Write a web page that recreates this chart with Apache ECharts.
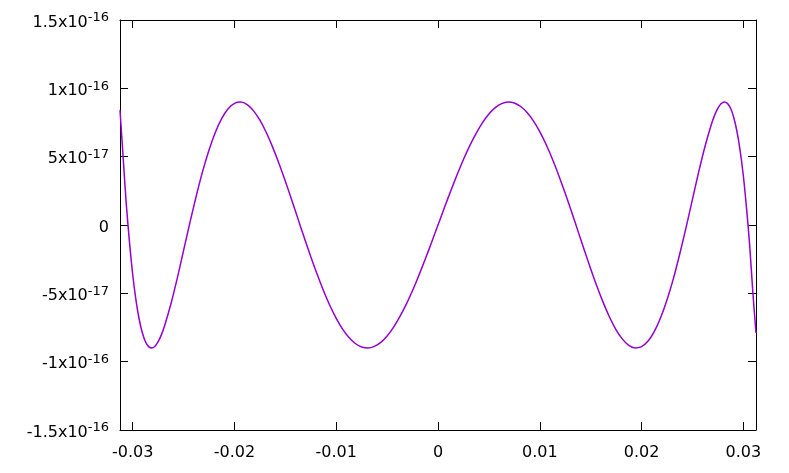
<!DOCTYPE html>
<html>
<head>
<meta charset="utf-8">
<script src="https://cdn.jsdelivr.net/npm/echarts@6/dist/echarts.min.js"></script>
<style>
  html, body { margin: 0; padding: 0; background: #fff; }
  #chart { width: 789px; height: 473px; }
</style>
</head>
<body>
<div id="chart"></div>
<script>
// x positions
const xs = [
  -0.03125, -0.0309375, -0.030625, -0.0303125, -0.03, -0.0296875, -0.029375, -0.0290625,
  -0.02875, -0.0284375, -0.028125, -0.0278125, -0.0275, -0.0271875, -0.026875,
  -0.02625, -0.025625, -0.025, -0.024375, -0.02375, -0.023125, -0.0225, -0.021875,
  -0.02125, -0.020625, -0.02, -0.019375, -0.01875, -0.018125, -0.0175, -0.016875,
  -0.01625, -0.015625, -0.015, -0.014375, -0.01375, -0.013125, -0.0125, -0.011875,
  -0.01125, -0.010625, -0.01, -0.009375, -0.00875, -0.008125, -0.0075, -0.006875,
  -0.00625, -0.005625, -0.005, -0.004375, -0.00375, -0.003125, -0.0025, -0.001875,
  -0.00125, -0.000625,
  0,
  0.000625, 0.00125, 0.001875, 0.0025, 0.003125, 0.00375, 0.004375, 0.005,
  0.005625, 0.00625, 0.006875, 0.0075, 0.008125, 0.00875, 0.009375, 0.01,
  0.010625, 0.01125, 0.011875, 0.0125, 0.013125, 0.01375, 0.014375, 0.015,
  0.015625, 0.01625, 0.016875, 0.0175, 0.018125, 0.01875, 0.019375, 0.02,
  0.020625, 0.02125, 0.021875, 0.0225, 0.023125, 0.02375, 0.024375, 0.025,
  0.025625, 0.02625, 0.026875, 0.0271875, 0.0275, 0.0278125, 0.028125, 0.0284375,
  0.02875, 0.0290625, 0.029375, 0.0296875, 0.03, 0.0303125, 0.030625, 0.0309375,
  0.03125
]
// error values, in units of 1e-16
const errs = [
  0.84, 0.49, 0.145, -0.129, -0.364, -0.546, -0.686, -0.787,
  -0.854, -0.890, -0.900, -0.887, -0.854, -0.804, -0.739,
  -0.578, -0.390, -0.186, 0.019, 0.214, 0.394, 0.549, 0.679,
  0.780, 0.851, 0.890, 0.900, 0.881, 0.835, 0.767, 0.677,
  0.570, 0.450, 0.320, 0.183, 0.043, -0.097, -0.232, -0.361,
  -0.481, -0.589, -0.683, -0.762, -0.823, -0.867, -0.893, -0.900,
  -0.888, -0.859, -0.812, -0.749, -0.671, -0.581, -0.479, -0.367,
  -0.249, -0.126,
  0,
  0.126, 0.249, 0.367, 0.479, 0.581, 0.671, 0.749, 0.812,
  0.859, 0.888, 0.900, 0.893, 0.867, 0.823, 0.762, 0.683,
  0.589, 0.481, 0.361, 0.232, 0.097, -0.043, -0.183, -0.320,
  -0.450, -0.570, -0.677, -0.767, -0.835, -0.881, -0.900, -0.890,
  -0.851, -0.780, -0.679, -0.549, -0.394, -0.214, -0.019, 0.186,
  0.390, 0.578, 0.739, 0.804, 0.854, 0.887, 0.900, 0.890,
  0.854, 0.787, 0.686, 0.546, 0.364, 0.129, -0.145, -0.49,
  -0.79
]
const xTicks = [-0.03, -0.02, -0.01, 0, 0.01, 0.02, 0.03]
const xTickLabels = ['-0.03', '-0.02', '-0.01', '0', '0.01', '0.02', '0.03']
const yTicks = [-1.5, -1, -0.5, 0, 0.5, 1, 1.5]
const yMant = ['-1.5x10', '-1x10', '-5x10', '0', '5x10', '1x10', '1.5x10']
const yExp = ['-16', '-16', '-17', '', '-17', '-16', '-16']

const FONT = 'DejaVu Sans'
const chart = echarts.init(document.getElementById('chart'), null, { renderer: 'canvas' })

const frameLine = { show: true, onZero: false, lineStyle: { color: '#000', width: 1 } }
const tickIn = { show: true, inside: true, length: 8, lineStyle: { color: '#000', width: 1 } }

chart.setOption({
  animation: false,
  grid: { left: 120, top: 20, width: 636, height: 410, containLabel: false },
  xAxis: [{
    type: 'value', min: -0.03125, max: 0.03125, position: 'bottom',
    axisLine: frameLine, splitLine: { show: false },
    axisTick: Object.assign({ customValues: xTicks }, tickIn),
    axisLabel: {
      customValues: xTicks, margin: 15, color: '#000', fontFamily: FONT, fontSize: 16,
      formatter: v => {
        const i = xTicks.findIndex(t => Math.abs(t - v) < 1e-9)
        return i >= 0 ? xTickLabels[i] : ''
      }
    }
  }, {
    type: 'value', min: -0.03125, max: 0.03125, position: 'top',
    axisLine: frameLine, splitLine: { show: false },
    axisTick: Object.assign({ customValues: xTicks }, tickIn),
    axisLabel: { show: false }
  }],
  yAxis: [{
    type: 'value', min: -1.5, max: 1.5, interval: 0.5, position: 'left',
    axisLine: frameLine, splitLine: { show: false }, axisTick: tickIn,
    axisLabel: {
      margin: 11, color: '#000', fontFamily: FONT, fontSize: 16, padding: [5, 0, 0, 0],
      formatter: v => {
        const i = yTicks.findIndex(t => Math.abs(t - v) < 1e-9)
        if (i < 0) return ''
        if (!yExp[i]) return '{m|' + yMant[i] + '}'
        return '{m|' + yMant[i] + '}{s|' + yExp[i] + '}'
      },
      rich: {
        m: { fontFamily: FONT, fontSize: 16, color: '#000', lineHeight: 20 },
        s: { fontFamily: FONT, fontSize: 13, color: '#000', verticalAlign: 'bottom', padding: [0, 0, 9, 0] }
      }
    }
  }, {
    type: 'value', min: -1.5, max: 1.5, interval: 0.5, position: 'right',
    axisLine: frameLine, splitLine: { show: false }, axisTick: tickIn,
    axisLabel: { show: false }
  }],
  series: [{
    type: 'line',
    data: xs.map((x, i) => [x, errs[i]]),
    showSymbol: false,
    smooth: 0.3,
    lineStyle: { color: '#9400d3', width: 1.5 },
    clip: true
  }]
})
</script>
</body>
</html>
